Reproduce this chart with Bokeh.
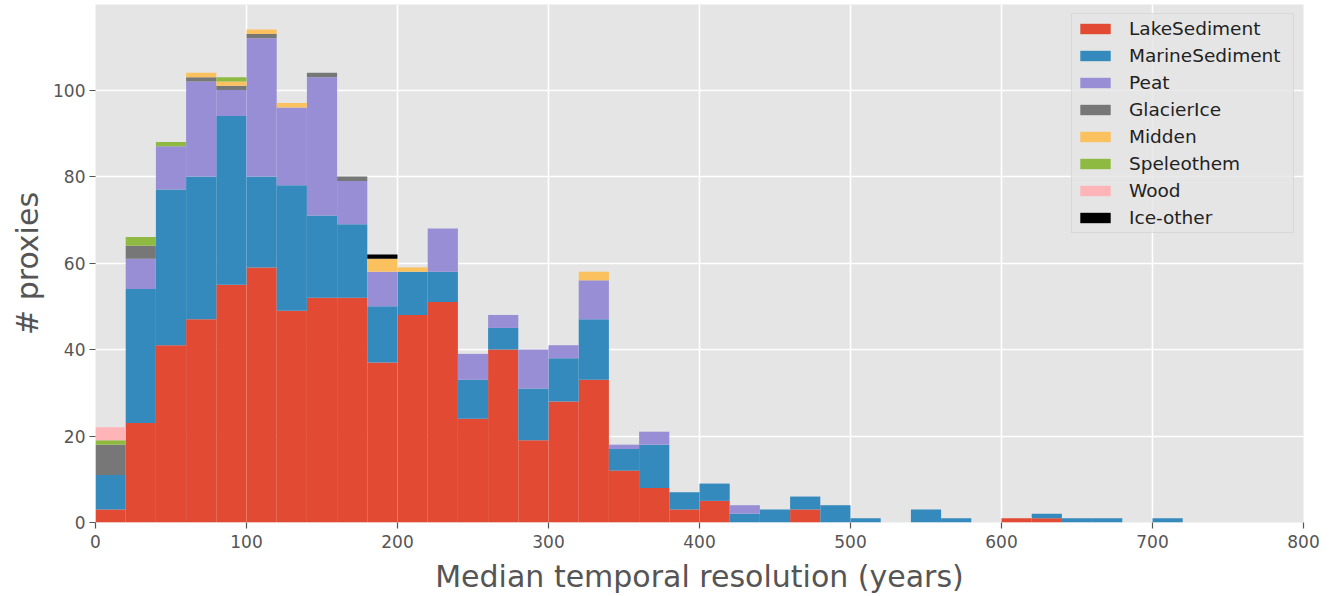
from bokeh.plotting import figure
from bokeh.models import ColumnDataSource, Range1d, FixedTicker, Legend
from bokeh.embed import file_html
from bokeh.resources import INLINE

bin_width = 20
bin_left = [i * bin_width for i in range(36)]

lake = [3, 23, 41, 47, 55, 59, 49, 52, 52, 37, 48, 51, 24, 40, 19, 28, 33, 12, 8, 3,
        5, 0, 0, 3, 0, 0, 0, 0, 0, 0, 1, 1, 0, 0, 0, 0]
marine = [8, 31, 36, 33, 39, 21, 29, 19, 17, 13, 10, 7, 9, 5, 12, 10, 14, 5, 10, 4,
          4, 2, 3, 3, 4, 1, 0, 3, 1, 0, 0, 1, 1, 1, 0, 1]
peat = [0, 7, 10, 22, 6, 32, 18, 32, 10, 8, 0, 10, 6, 3, 9, 3, 9, 1, 3, 0,
        0, 2, 0, 0, 0, 0, 0, 0, 0, 0, 0, 0, 0, 0, 0, 0]
glacier = [7, 3, 0, 1, 1, 1, 0, 1, 1, 0, 0, 0, 0, 0, 0, 0, 0, 0, 0, 0,
           0, 0, 0, 0, 0, 0, 0, 0, 0, 0, 0, 0, 0, 0, 0, 0]
midden = [0, 0, 0, 1, 1, 1, 1, 0, 0, 3, 1, 0, 0, 0, 0, 0, 2, 0, 0, 0,
          0, 0, 0, 0, 0, 0, 0, 0, 0, 0, 0, 0, 0, 0, 0, 0]
speleothem = [1, 2, 1, 0, 1, 0, 0, 0, 0, 0, 0, 0, 0, 0, 0, 0, 0, 0, 0, 0,
              0, 0, 0, 0, 0, 0, 0, 0, 0, 0, 0, 0, 0, 0, 0, 0]
wood = [3, 0, 0, 0, 0, 0, 0, 0, 0, 0, 0, 0, 0, 0, 0, 0, 0, 0, 0, 0,
        0, 0, 0, 0, 0, 0, 0, 0, 0, 0, 0, 0, 0, 0, 0, 0]
ice_other = [0, 0, 0, 0, 0, 0, 0, 0, 0, 1, 0, 0, 0, 0, 0, 0, 0, 0, 0, 0,
             0, 0, 0, 0, 0, 0, 0, 0, 0, 0, 0, 0, 0, 0, 0, 0]

series_names = ["LakeSediment", "MarineSediment", "Peat", "GlacierIce",
                "Midden", "Speleothem", "Wood", "Ice-other"]
series_values = [lake, marine, peat, glacier, midden, speleothem, wood, ice_other]
colors = ["#E24A33", "#348ABD", "#988ED5", "#777777",
          "#FBC15E", "#8EBA42", "#FFB5B8", "#000000"]

x_ticks = [0, 100, 200, 300, 400, 500, 600, 700, 800]
y_ticks = [0, 20, 40, 60, 80, 100]

data = {"x": [b + bin_width / 2 for b in bin_left]}
for n, v in zip(series_names, series_values):
    data[n] = v
source = ColumnDataSource(data)

FONT = "DejaVu Sans"

p = figure(width=1339, height=596, output_backend="svg", toolbar_location=None,
           x_range=Range1d(0, 800), y_range=Range1d(0, 119.8),
           min_border_left=95, min_border_right=36, min_border_top=4,
           min_border_bottom=73)
p.background_fill_color = "#E5E5E5"
p.border_fill_color = "white"
p.outline_line_color = None

renderers = p.vbar_stack(series_names, x="x", width=bin_width, source=source,
                         color=colors, line_width=0)

legend = Legend(items=[(n, [r]) for n, r in zip(series_names, renderers)],
                location="top_right")
legend.margin = 9
legend.padding = 4
legend.spacing = 6
legend.glyph_width = 38
legend.glyph_height = 13
legend.label_height = 20
legend.label_width = 160
legend.label_standoff = 15
legend.label_text_font = FONT
legend.label_text_font_size = "18.5px"
legend.label_text_color = "#222222"
legend.background_fill_color = "#E5E5E5"
legend.background_fill_alpha = 0.8
legend.border_line_color = "#CCCCCC"
legend.border_line_width = 1
p.add_layout(legend)

for g in (p.xgrid, p.ygrid):
    g.grid_line_color = "white"
    g.grid_line_width = 1.6
p.xgrid.ticker = FixedTicker(ticks=x_ticks)
p.ygrid.ticker = FixedTicker(ticks=y_ticks)

p.xaxis.ticker = FixedTicker(ticks=x_ticks)
p.yaxis.ticker = FixedTicker(ticks=y_ticks)

for ax in (p.xaxis[0], p.yaxis[0]):
    ax.axis_line_color = None
    ax.major_tick_line_color = "#555555"
    ax.major_tick_line_width = 1.2
    ax.major_tick_out = 6
    ax.major_tick_in = 0
    ax.minor_tick_line_color = None
    ax.major_label_text_font = FONT
    ax.major_label_text_font_size = "17px"
    ax.major_label_text_color = "#555555"
    ax.axis_label_text_font = FONT
    ax.axis_label_text_font_size = "30px"
    ax.axis_label_text_font_style = "normal"
    ax.axis_label_text_color = "#555555"

p.xaxis.axis_label = "Median temporal resolution (years)"
p.yaxis.axis_label = "# proxies"
p.xaxis.major_label_standoff = 6
p.xaxis.axis_label_standoff = 8
p.yaxis.major_label_standoff = 4
p.yaxis.axis_label_standoff = 5

open("out.html", "w").write(file_html(p, INLINE))
